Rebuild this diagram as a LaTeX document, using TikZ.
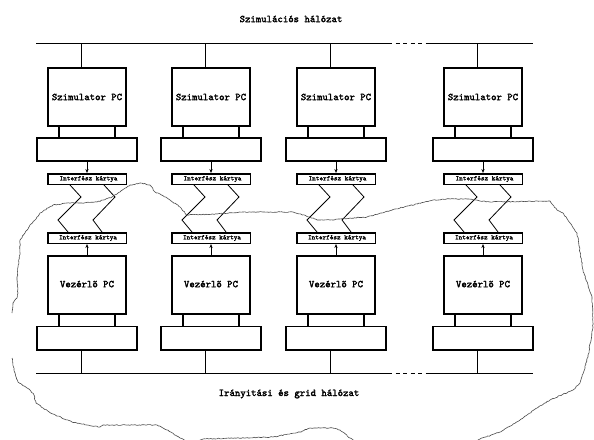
\documentclass[tikz,border=0pt]{standalone}
\usepackage{fontspec}
\setmonofont{lmmono10-regular.otf}[AutoFakeBold=2.2]
\usetikzlibrary{arrows.meta,decorations.pathmorphing}
\begin{document}
\begin{tikzpicture}[x=1pt,y=-1pt,
  pcbox/.style={draw,line width=1.8pt,minimum width=78.2pt,minimum height=58.2pt,inner sep=0pt,font=\ttfamily\bfseries\fontsize{10.3}{11}\selectfont},
  basebox/.style={draw,line width=1.8pt,minimum width=100.2pt,minimum height=23.2pt,inner sep=0pt},
  card/.style={draw,line width=1.5pt,minimum width=78.5pt,minimum height=10.5pt,inner sep=0pt,font=\ttfamily\bfseries\fontsize{6.9}{7}\selectfont},
  title/.style={font=\ttfamily\bfseries\fontsize{10.3}{11}\selectfont,inner sep=0pt},
  bus/.style={line width=0.8pt},
  busdash/.style={line width=0.8pt,dash pattern=on 4pt off 3.5pt},
  leg/.style={line width=1.8pt},
  zig/.style={line width=0.8pt,line join=miter},
  arr/.style={line width=0.8pt,-{Stealth[length=4pt,width=3.2pt]}},
  cloud/.style={draw=black!70,line width=0.6pt,decorate,decoration={random steps,segment length=1.6pt,amplitude=0.45pt}}
]
\useasboundingbox (0,0) rectangle (594,439);
\fill[white] (0,0) rectangle (594,439);
\pgfmathsetseed{11}

% titles
\node[title] (tsim) at (291,19) {Szimulációs hálózat};
\node[title] (tira) at (289,394) {Irányitási és grid hálózat};

% buses
\coordinate (bt0) at (36,43);
\coordinate (bt1) at (388,43);
\coordinate (bt2) at (430,43);
\coordinate (bt3) at (533,43);
\coordinate (bb0) at (36,373);
\coordinate (bb1) at (388,373);
\coordinate (bb2) at (430,373);
\coordinate (bb3) at (533,373);
\draw[bus] (bt0) -- (bt1);
\draw[busdash] (bt1) -- (bt2);
\draw[bus] (bt2) -- (bt3);
\draw[bus] (bb0) -- (bb1);
\draw[busdash] (bb1) -- (bb2);
\draw[bus] (bb2) -- (bb3);

\foreach \i/\L in {1/47,2/171,3/296,4/443}{
  \node[pcbox] (s\i) at (\L+40,97) {Szimulator PC};
  \node[basebox] (bs\i) at (\L+40,149.5) {};
  \node[card] (ct\i) at (\L+40,179) {\hspace{3pt}Interfész kártya};
  \node[card] (cb\i) at (\L+40,238) {\hspace{2pt}Interfész kártya};
  \node[pcbox] (v\i) at (\L+40,285) {\raisebox{2pt}{Vezérlő PC}};
  \node[basebox] (bv\i) at (\L+40,338) {};
  % drops to buses
  \draw[bus] ([xshift=34pt]s\i.north west) -- ([xshift=34pt]s\i.north west |- bt0);
  \draw[bus] ([xshift=45pt]bv\i.south west) -- ([xshift=45pt]bv\i.south west |- bb0);
  % legs
  \draw[leg] ([xshift=12pt]s\i.south west) -- ([xshift=12pt]s\i.south west |- bs\i.north);
  \draw[leg] ([xshift=68pt]s\i.south west) -- ([xshift=68pt]s\i.south west |- bs\i.north);
  \draw[leg] ([xshift=12pt]v\i.south west) -- ([xshift=12pt]v\i.south west |- bv\i.north);
  \draw[leg] ([xshift=68pt]v\i.south west) -- ([xshift=68pt]v\i.south west |- bv\i.north);
  % arrows
  \draw[arr] (bs\i.south) -- (ct\i.north);
  \draw[arr] (v\i.north) -- (cb\i.south);
  % zigzag links
  \draw[zig] ([xshift=23pt]ct\i.south west) -- ++(11,12) -- ++(-23,23) -- ([xshift=21pt]cb\i.north west);
  \draw[zig] ([xshift=57pt]ct\i.south west) -- ++(11,12) -- ++(-22,23) -- ([xshift=55pt]cb\i.north west);
}

% cloud
\begin{scope}
\clip (0,0) rectangle (594,439);
\draw[cloud] (12,313) -- (13,303) -- (17,298) -- (18,293) -- (17,280) -- (18,267) -- (20,253) -- (20,240)
  -- (25,233) -- (30,225) -- (35,220) -- (40,213) -- (48,208) -- (53,205) -- (67,203) -- (80,203)
  -- (97,202) -- (112,197) -- (120,192) -- (130,185) -- (140,183) -- (150,185) -- (155,192) -- (160,194)
  -- (170,200) -- (180,207) -- (187,215) -- (217,214) -- (243,212) -- (293,212) -- (310,217) -- (317,220)
  -- (330,220) -- (350,218) -- (367,217) -- (400,208) -- (433,200) -- (450,199) -- (467,199) -- (490,202)
  -- (550,201) -- (557,210) -- (563,213) -- (577,233) -- (583,270) -- (592,297) -- (593,327) -- (588,357)
  -- (580,383) -- (573,390) -- (550,400) -- (537,408) -- (520,420) -- (500,432) -- (480,439) -- (470,446)
  -- (360,446) -- (350,438) -- (340,430) -- (333,428) -- (310,428) -- (300,432) -- (273,437) -- (203,439)
  -- (192,444) -- (180,438) -- (167,430) -- (157,425) -- (133,425) -- (103,425) -- (100,427) -- (87,425)
  -- (72,422) -- (53,414) -- (43,408) -- (36,403) -- (34,395) -- (30,390) -- (18,382) -- (14,370) -- (12,358);
\end{scope}
\end{tikzpicture}
\end{document}
